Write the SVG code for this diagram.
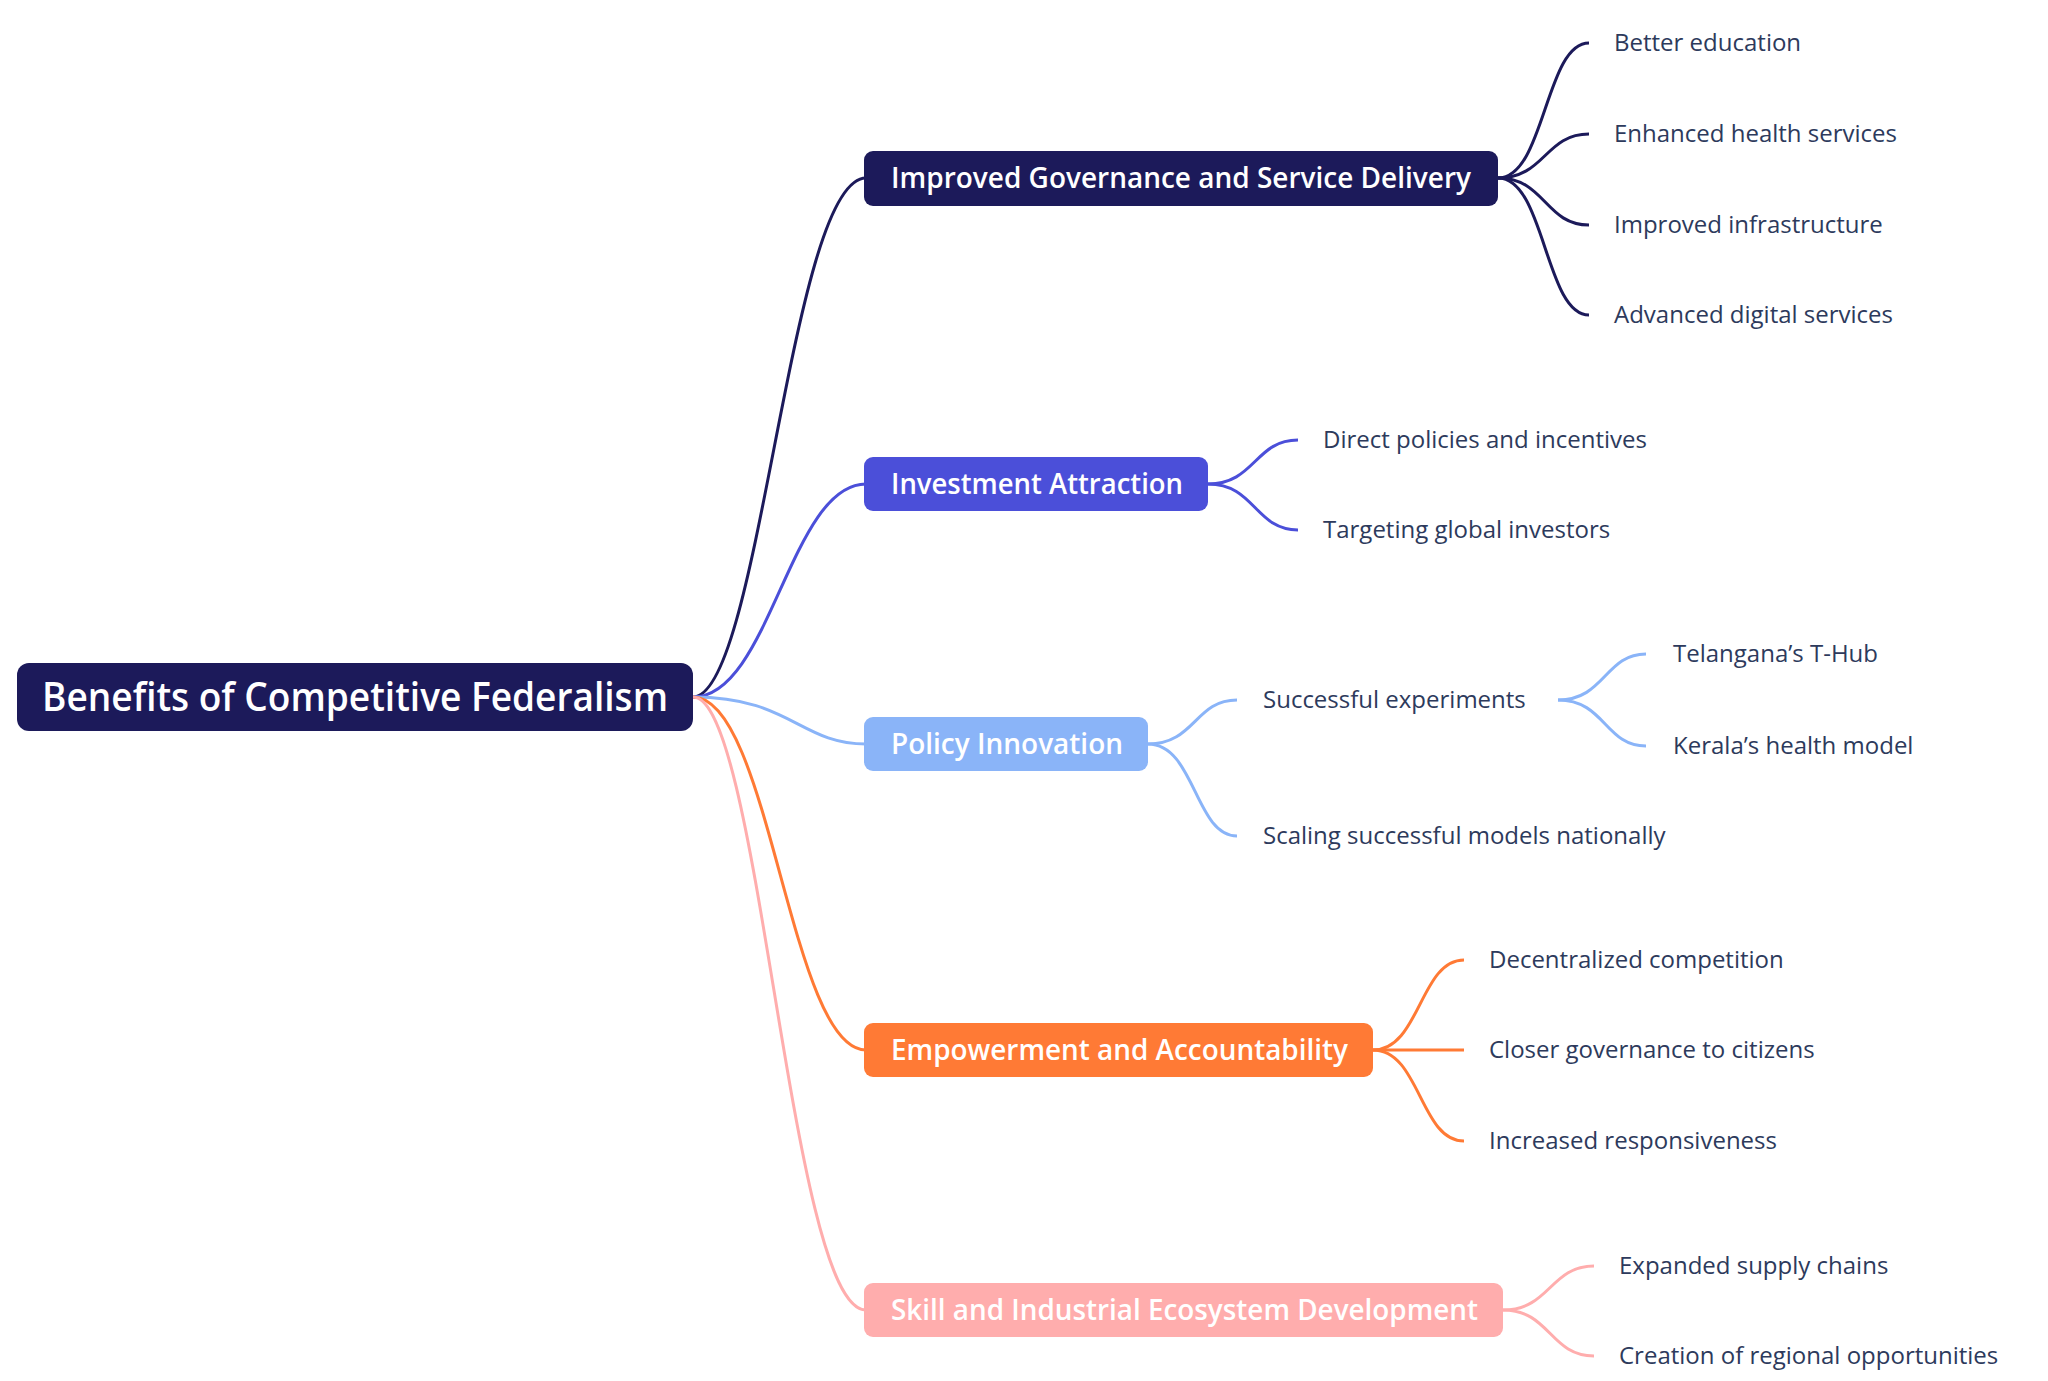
<svg xmlns="http://www.w3.org/2000/svg" width="2048" height="1381" viewBox="0 0 2048 1381">
<style>
.n{font-family:"Open Sans","Noto Sans",sans-serif;font-weight:600;fill:#fff}
.l1{font-size:29px}
.c{font-family:"Open Sans","Noto Sans",sans-serif;font-size:24px;fill:#2d3a5c}
path{fill:none;stroke-width:3}
</style>
<rect width="2048" height="1381" fill="#fff"/>
<g id="connectors">
<path d="M693,697 C760,697 790,178 866,178" stroke="#1c1a5a"/>
<path d="M693,697 C770,697 790,484 866,484" stroke="#4b4fd9"/>
<path d="M693,697 C790,697 800,744 866,744" stroke="#8ab4f8"/>
<path d="M693,697 C770,697 790,1050 866,1050" stroke="#ff7a35"/>
<path d="M693,697 C760,697 790,1310 866,1310" stroke="#ffadad"/>
<g stroke="#1c1a5a">
<path d="M1498,178 C1545,178 1545,43 1589,43"/>
<path d="M1498,178 C1545,178 1545,134 1589,134"/>
<path d="M1498,178 C1545,178 1545,225 1589,225"/>
<path d="M1498,178 C1545,178 1545,315 1589,315"/>
</g>
<g stroke="#4b4fd9">
<path d="M1208,484 C1255,484 1255,440 1298,440"/>
<path d="M1208,484 C1255,484 1255,530 1298,530"/>
</g>
<g stroke="#8ab4f8">
<path d="M1148,744 C1195,744 1195,700 1237,700"/>
<path d="M1148,744 C1195,744 1195,836 1237,836"/>
<path d="M1558,700 C1605,700 1605,654 1646,654"/>
<path d="M1558,700 C1605,700 1605,746 1646,746"/>
</g>
<g stroke="#ff7a35">
<path d="M1373,1050 C1420,1050 1420,960 1464,960"/>
<path d="M1373,1050 L1464,1050"/>
<path d="M1373,1050 C1420,1050 1420,1141 1464,1141"/>
</g>
<g stroke="#ffadad">
<path d="M1503,1310 C1550,1310 1550,1266 1594,1266"/>
<path d="M1503,1310 C1550,1310 1550,1356 1594,1356"/>
</g>
</g>
<g id="root"><rect x="17" y="663" width="676" height="68" rx="12" fill="#1c1a5a"/><text class="n" x="42" y="711" font-size="40" textLength="626" lengthAdjust="spacingAndGlyphs">Benefits of Competitive Federalism</text></g>
<g id="n1"><rect x="864" y="151" width="634" height="55" rx="9" fill="#1c1a5a"/><text class="n l1" x="891" y="188" textLength="580" lengthAdjust="spacingAndGlyphs">Improved Governance and Service Delivery</text></g>
<g id="n2"><rect x="864" y="457" width="344" height="54" rx="9" fill="#4b4fd9"/><text class="n l1" x="891" y="494" textLength="292" lengthAdjust="spacingAndGlyphs">Investment Attraction</text></g>
<g id="n3"><rect x="864" y="717" width="284" height="54" rx="9" fill="#8ab4f8"/><text class="n l1" x="891" y="754" textLength="232" lengthAdjust="spacingAndGlyphs">Policy Innovation</text></g>
<g id="n4"><rect x="864" y="1023" width="509" height="54" rx="9" fill="#ff7a35"/><text class="n l1" x="891" y="1060" textLength="457" lengthAdjust="spacingAndGlyphs">Empowerment and Accountability</text></g>
<g id="n5"><rect x="864" y="1283" width="639" height="54" rx="9" fill="#ffadad"/><text class="n l1" x="891" y="1320" textLength="587" lengthAdjust="spacingAndGlyphs">Skill and Industrial Ecosystem Development</text></g>
<g id="leaves">
<text class="c" x="1614" y="51">Better education</text>
<text class="c" x="1614" y="142">Enhanced health services</text>
<text class="c" x="1614" y="233">Improved infrastructure</text>
<text class="c" x="1614" y="323">Advanced digital services</text>
<text class="c" x="1323" y="448">Direct policies and incentives</text>
<text class="c" x="1323" y="538">Targeting global investors</text>
<text class="c" x="1263" y="708">Successful experiments</text>
<text class="c" x="1263" y="844">Scaling successful models nationally</text>
<text class="c" x="1673" y="662">Telangana’s T-Hub</text>
<text class="c" x="1673" y="754">Kerala’s health model</text>
<text class="c" x="1489" y="968">Decentralized competition</text>
<text class="c" x="1489" y="1058">Closer governance to citizens</text>
<text class="c" x="1489" y="1149">Increased responsiveness</text>
<text class="c" x="1619" y="1274">Expanded supply chains</text>
<text class="c" x="1619" y="1364">Creation of regional opportunities</text>
</g>
</svg>
